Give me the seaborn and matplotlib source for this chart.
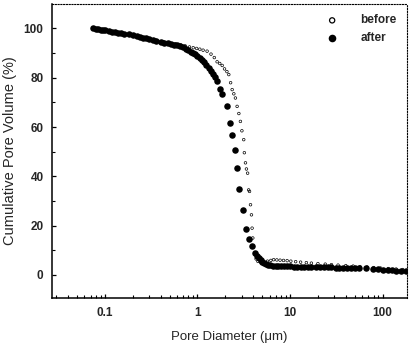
import matplotlib
matplotlib.use("Agg")
import matplotlib.pyplot as plt
import seaborn as sns
import pandas as pd

# Mercury intrusion: cumulative pore volume vs. pore diameter
before_diam = [0.075, 0.09, 0.11, 0.13, 0.16, 0.2, 0.25, 0.3, 0.36, 0.43, 0.5,
               0.58, 0.66, 0.74, 0.82, 0.9, 0.98, 1.06, 1.15, 1.27, 1.4, 1.52,
               1.63, 1.74, 1.85, 1.96, 2.08, 2.18, 2.28, 2.37, 2.47, 2.57, 2.68,
               2.8, 2.91, 3.02, 3.16, 3.21, 3.3, 3.38, 3.48, 3.57, 3.65, 3.74,
               3.83, 3.89, 3.96, 4.03, 4.15, 4.3, 4.5, 4.8, 5.2, 5.7, 6.2, 6.65,
               7.2, 7.8, 8.5, 9.3, 10.2, 11.5, 13, 15, 17, 20, 24, 28, 33, 40,
               48, 57, 68, 80, 95, 115, 140, 165]
before_vol = [100, 99.2, 98.9, 98.4, 97.9, 97.3, 96.5, 95.9, 95.2, 94.6, 94.0,
              93.8, 93.3, 92.9, 92.5, 92.2, 91.9, 91.6, 91.2, 90.8, 89.6, 88.2,
              86.5, 85.8, 85.0, 83.6, 82.5, 81.3, 78.0, 75.2, 73.5, 71.8, 68.4,
              65.5, 62.3, 58.5, 54.9, 49.6, 45.5, 43.0, 41.3, 34.5, 33.9, 28.5,
              24.4, 19.0, 15.0, 11.5, 8.5, 6.5, 5.5, 5.2, 5.3, 5.6, 5.9, 6.2,
              6.1, 6.0, 5.9, 5.8, 5.6, 5.4, 5.2, 5.0, 4.8, 4.6, 4.4, 4.2, 4.0,
              3.8, 3.6, 3.4, 3.2, 3.0, 2.8, 2.6, 2.4, 2.2]

after_diam = [0.075, 0.08, 0.085, 0.09, 0.095, 0.10, 0.11, 0.12, 0.13, 0.14,
              0.15, 0.16, 0.18, 0.20, 0.22, 0.24, 0.26, 0.28, 0.30, 0.33, 0.36,
              0.40, 0.44, 0.48, 0.52, 0.56, 0.60, 0.65, 0.70, 0.75, 0.80, 0.85,
              0.90, 0.95, 1.00, 1.06, 1.12, 1.18, 1.25, 1.32, 1.40, 1.48, 1.56,
              1.64, 1.77, 1.85, 2.06, 2.23, 2.37, 2.52, 2.68, 2.84, 3.11, 3.38,
              3.62, 3.89, 4.22, 4.4, 4.58, 4.8, 5.0, 5.2, 5.5, 5.8, 6.1, 6.5,
              7.0, 7.5, 8.0, 8.6, 9.3, 10, 11, 12, 13, 14, 15.5, 17, 19, 21, 23,
              25.5, 28, 31, 34, 37.5, 41, 45, 50, 56, 66, 78, 89, 100, 113, 126,
              140, 158, 178]
after_vol = [100.0, 99.8, 99.6, 99.5, 99.3, 99.2, 98.9, 98.7, 98.4, 98.2,
             98.1, 97.9, 97.6, 97.3, 96.9, 96.6, 96.3, 96.0, 95.8, 95.4, 95.1,
             94.7, 94.3, 94.0, 93.7, 93.4, 93.1, 92.8, 92.3, 91.8, 91.2, 90.6,
             90.0, 89.5, 89.0, 88.2, 87.3, 86.3, 85.2, 84.1, 82.8, 81.5, 80.2,
             78.8, 75.5, 73.4, 68.7, 61.7, 56.7, 50.8, 43.6, 34.9, 26.4, 18.7,
             14.5, 11.8, 8.8, 7.8, 6.8, 6.0, 5.3, 4.8, 4.4, 4.1, 3.9, 3.8,
             3.7, 3.7, 3.6, 3.6, 3.5, 3.5, 3.4, 3.4, 3.4, 3.3, 3.3, 3.3, 3.2,
             3.2, 3.1, 3.1, 3.1, 3.0, 3.0, 2.9, 2.9, 2.8, 2.8, 2.7, 2.7, 2.5,
             2.3, 2.1, 2.0, 1.9, 1.8, 1.8, 1.7]

x_ticks = [0.1, 1, 10, 100]
x_tick_labels = ["0.1", "1", "10", "100"]
y_ticks = [0, 20, 40, 60, 80, 100]

before_df = pd.DataFrame({"diameter": before_diam, "volume": before_vol})
after_df = pd.DataFrame({"diameter": after_diam, "volume": after_vol})

sns.set_style("ticks")
plt.rcParams["font.family"] = ["Liberation Sans", "DejaVu Sans"]

fig = plt.figure(figsize=(4.09, 3.49), dpi=100)
ax = fig.add_axes([0.127, 0.145, 0.869, 0.844])

sns.scatterplot(data=before_df, x="diameter", y="volume", ax=ax,
                marker="o", s=3.5, facecolors="none", edgecolor="black",
                linewidth=0.5, label="before", zorder=2)
sns.scatterplot(data=after_df, x="diameter", y="volume", ax=ax,
                marker="o", s=22, color="black", edgecolor="black",
                linewidth=0, label="after", zorder=3)

ax.set_xscale("log")
ax.set_xlim(0.0268, 185)
ax.set_ylim(-9.5, 110)
ax.set_xticks(x_ticks)
ax.set_xticklabels(x_tick_labels)
ax.set_yticks(y_ticks)
ax.set_yticks([10, 30, 50, 70, 90], minor=True)

ax.tick_params(axis="both", which="major", direction="in", length=3,
               width=0.9, labelsize=8.5, pad=6, color="black")
ax.tick_params(axis="both", which="minor", direction="in", length=2,
               width=0.8, color="black")
for lab in ax.get_xticklabels() + ax.get_yticklabels():
    lab.set_fontweight("bold")

for side in ("left", "bottom"):
    ax.spines[side].set_linewidth(1.1)
    ax.spines[side].set_color("black")
for side in ("top", "right"):
    ax.spines[side].set_linestyle((0, (1, 1.5)))
    ax.spines[side].set_linewidth(0.8)
    ax.spines[side].set_color("black")

ax.set_xlabel("Pore Diameter (μm)", fontsize=9.5, labelpad=9)
ax.set_ylabel("Cumulative Pore Volume (%)", fontsize=10.5, labelpad=5)

leg = ax.legend(loc="upper right", frameon=False, fontsize=8.5,
                handletextpad=1.4, borderaxespad=0.5, labelspacing=0.45,
                markerscale=1.3)
leg.legend_handles[0].set_sizes([14])
leg.legend_handles[0].set_linewidth(0.9)
leg.legend_handles[1].set_sizes([30])
for t in leg.get_texts():
    t.set_fontweight("bold")

fig.savefig("out.png", dpi=100)
